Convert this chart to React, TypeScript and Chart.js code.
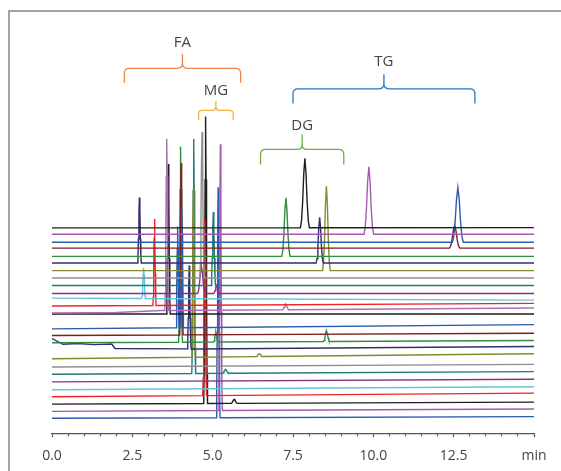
import React, { useEffect, useRef } from 'react';
import { Chart, registerables } from 'chart.js';

Chart.register(...registerables);

// ---- data (signal units, stacked chromatograms) ----
const traceColors = [
  '#1e1e1e', '#a45aac', '#2c5caf', '#7c1f22', '#2f8c42', '#2e2f6e', '#878a2c', '#8e8e8e', '#1f7a7a',
  '#84338a', '#62c6d6', '#f02424', '#b06cbb', '#1e1e1e', '#2c5caf', '#7c1f22', '#2f8c42', '#2e2f6e',
  '#878a2c', '#8e8e8e', '#1f7a7a', '#84338a', '#62c6d6', '#f02424', '#1e1e1e', '#a45aac', '#2c5caf',
];
const baselineStart = [
  206.7, 200.3, 192.3, 186.3, 178, 171.3, 163.7, 156.3, 148.7, 140.7, 136, 128, 121, 120,
  105, 98.3, 91, 95.3, 75, 66.7, 59.3, 51.7, 43.7, 36.7, 29.3, 22, 15,
];
const baselineEnd = [
  207, 200.3, 192.3, 186.3, 178, 171.3, 163.7, 156.3, 148.7, 140.7, 134, 130.7, 126, 120,
  109.3, 100.7, 93.3, 87.3, 80, 69.3, 62, 54.3, 46.7, 40.3, 31.3, 24.3, 16.7,
];
// extra baseline knots (trace, time, level)
const knotTrace = [17, 17, 17, 17, 17, 17, 12, 12];
const knotTime = [0.34, 0.8, 1.3, 1.86, 1.96, 4.5, 2.0, 3.4];
const knotLevel = [89.5, 90.3, 89.2, 89.8, 85.3, 84.8, 121.5, 123.5];

// peaks: trace index, retention time (min), height, half base width (min)
const peakTrace = [0, 1, 2, 3, 4, 5, 5, 6, 7, 8, 9, 9, 10, 11, 12, 12, 13, 14, 14, 15, 16, 16, 16, 17, 18, 18, 20, 20, 23, 24, 24, 25, 26];
const peakTime = [7.87, 9.86, 12.63, 12.53, 7.28, 2.72, 8.33, 8.54, 4.67, 5.02, 4.65, 5.12, 2.85, 3.19, 3.57, 7.27, 3.62, 3.91, 4.04, 4.02, 4.0, 5.1, 8.54, 4.27, 4.4, 6.45, 4.41, 5.4, 4.75, 4.78, 5.67, 5.24, 5.17];
const peakHeight = [70, 68, 55, 23, 59, 66, 46, 85, 147, 74, 27, 8, 31, 87, 173, 6, 151, 102, 122, 173, 197, 10, 11, 84, 170, 3, 236, 4, 178, 289, 4, 268, 232];
const peakHalfWidth = [0.14, 0.15, 0.17, 0.16, 0.13, 0.06, 0.11, 0.12, 0.07, 0.07, 0.12, 0.09, 0.06, 0.05, 0.06, 0.1, 0.06, 0.05, 0.05, 0.06, 0.06, 0.07, 0.1, 0.06, 0.06, 0.1, 0.06, 0.1, 0.06, 0.06, 0.1, 0.06, 0.06];
// normalised peak profile (offset in half widths, fraction of height)
const profileOffset = [-1, -0.75, -0.5, -0.25, 0, 0.25, 0.5, 0.75, 1];
const profileLevel = [0, 0.1, 0.37, 0.78, 1, 0.78, 0.37, 0.1, 0];

// annotation brackets
const bracketLabels = ['FA', 'MG', 'DG', 'TG'];
const bracketStart = [2.25, 4.56, 6.49, 7.5];
const bracketEnd = [5.87, 5.64, 9.08, 13.16];
const bracketLevel = [367.3, 325, 285.7, 346.7];
const bracketColors = ['#f0874a', '#f3b23a', '#6cae45', '#2a76c0'];
const bracketDepth = [14.5, 9.5, 15, 14.7];
const bracketLabelGap = [11.3, 10, 8.5, 12.3];

const X_MIN = 0;
const X_MAX = 15;

function profileAt(u: number) {
  if (u <= -1 || u >= 1) return 0;
  for (let k = 0; k < profileOffset.length - 1; k++) {
    const a = profileOffset[k], b = profileOffset[k + 1];
    if (u >= a && u <= b) return profileLevel[k] + ((profileLevel[k + 1] - profileLevel[k]) * (u - a)) / (b - a);
  }
  return 0;
}

function buildTrace(i: number) {
  const knots: { t: number; v: number }[] = [{ t: X_MIN, v: baselineStart[i] }];
  knotTrace.forEach((tr, k) => {
    if (tr === i) knots.push({ t: knotTime[k], v: knotLevel[k] });
  });
  knots.push({ t: X_MAX, v: baselineEnd[i] });
  knots.sort((a, b) => a.t - b.t);
  const base = (t: number) => {
    for (let k = 0; k < knots.length - 1; k++) {
      const a = knots[k], b = knots[k + 1];
      if (t >= a.t && t <= b.t) return a.v + ((b.v - a.v) * (t - a.t)) / (b.t - a.t || 1);
    }
    return knots[knots.length - 1].v;
  };
  const pk: number[] = [];
  peakTrace.forEach((tr, k) => { if (tr === i) pk.push(k); });
  const times = new Set<number>(knots.map((k) => k.t));
  pk.forEach((k) => {
    profileOffset.forEach((o) => times.add(peakTime[k] + o * peakHalfWidth[k]));
  });
  const sorted = Array.from(times).sort((a, b) => a - b);
  return sorted.map((t) => {
    let v = base(t);
    pk.forEach((k) => {
      v += peakHeight[k] * profileAt((t - peakTime[k]) / peakHalfWidth[k]);
    });
    return { x: t, y: v };
  });
}

const bracketPlugin = {
  id: 'brackets',
  afterDatasetsDraw(chart: any) {
    const ctx = chart.ctx;
    const xs = chart.scales.x;
    const ys = chart.scales.y;
    ctx.save();
    bracketLabels.forEach((label, i) => {
      const x1 = xs.getPixelForValue(bracketStart[i]);
      const x2 = xs.getPixelForValue(bracketEnd[i]);
      const cx = (x1 + x2) / 2;
      const hy = ys.getPixelForValue(bracketLevel[i]);
      const d = bracketDepth[i];
      const r = Math.min(5, d / 2.5);
      ctx.strokeStyle = bracketColors[i];
      ctx.lineWidth = 1.3;
      ctx.beginPath();
      ctx.moveTo(x1, hy + d);
      ctx.lineTo(x1, hy + r);
      ctx.quadraticCurveTo(x1, hy, x1 + r, hy);
      ctx.lineTo(cx - r, hy);
      ctx.quadraticCurveTo(cx, hy, cx, hy - r);
      ctx.lineTo(cx, hy - d);
      ctx.moveTo(cx, hy - r);
      ctx.quadraticCurveTo(cx, hy, cx + r, hy);
      ctx.lineTo(x2 - r, hy);
      ctx.quadraticCurveTo(x2, hy, x2, hy + r);
      ctx.lineTo(x2, hy + d);
      ctx.stroke();
      ctx.fillStyle = '#444';
      ctx.font = '15px "Open Sans"';
      ctx.textAlign = 'center';
      ctx.textBaseline = 'middle';
      ctx.fillText(label, cx, hy - d - bracketLabelGap[i]);
    });
    ctx.restore();
  },
};

export default function App() {
  const ref = useRef<HTMLCanvasElement | null>(null);
  useEffect(() => {
    if (!ref.current) return;
    const datasets = traceColors.map((c, i) => ({
      label: 'trace ' + (i + 1),
      data: buildTrace(i),
      borderColor: c,
      backgroundColor: c,
      borderWidth: 1.4,
      pointRadius: 0,
      tension: 0,
      fill: false,
    }));
    const chart = new Chart(ref.current, {
      type: 'line',
      data: { datasets },
      options: {
        responsive: false,
        animation: false,
        events: [],
        layout: { padding: { left: 52, right: 27, top: 20, bottom: 0 } },
        plugins: { legend: { display: false }, tooltip: { enabled: false } },
        scales: {
          x: {
            type: 'linear',
            min: X_MIN,
            max: X_MAX,
            border: { display: true, color: '#555', width: 1.2 },
            grid: {
              drawOnChartArea: false,
              drawTicks: true,
              tickLength: 4,
              tickColor: '#555',
              tickWidth: 1.2,
              tickBorderDash: (ctx: any) => {
                const v = ctx.tick ? ctx.tick.value : 0;
                return Math.abs(v / 2.5 - Math.round(v / 2.5)) < 1e-6 ? [] : [2, 20];
              },
            },
            ticks: {
              stepSize: 0.5,
              autoSkip: false,
              maxRotation: 0,
              padding: 10,
              color: '#444',
              font: { family: 'Open Sans', size: 14 },
              callback: (v: any) => {
                const n = Number(v);
                if (Math.abs(n / 2.5 - Math.round(n / 2.5)) > 1e-6) return '';
                return n === X_MAX ? 'min' : n.toFixed(1);
              },
            },
          },
          y: { display: false, min: 0, max: 416 },
        },
      },
      plugins: [bracketPlugin],
    });
    return () => chart.destroy();
  }, []);
  return (
    <div style={{ position: 'fixed', left: 0, top: 0, width: 561, height: 471, background: '#fff', overflow: 'hidden' }}>
      <div
        style={{
          position: 'absolute', left: 8, top: 10, width: 553, height: 461, boxSizing: 'border-box',
          borderLeft: '2px solid #a3a3a3', borderTop: '2px solid #a3a3a3',
        }}
      />
      <canvas ref={ref} width={561} height={474} style={{ position: 'absolute', left: 0, top: 0 }} />
    </div>
  );
}
